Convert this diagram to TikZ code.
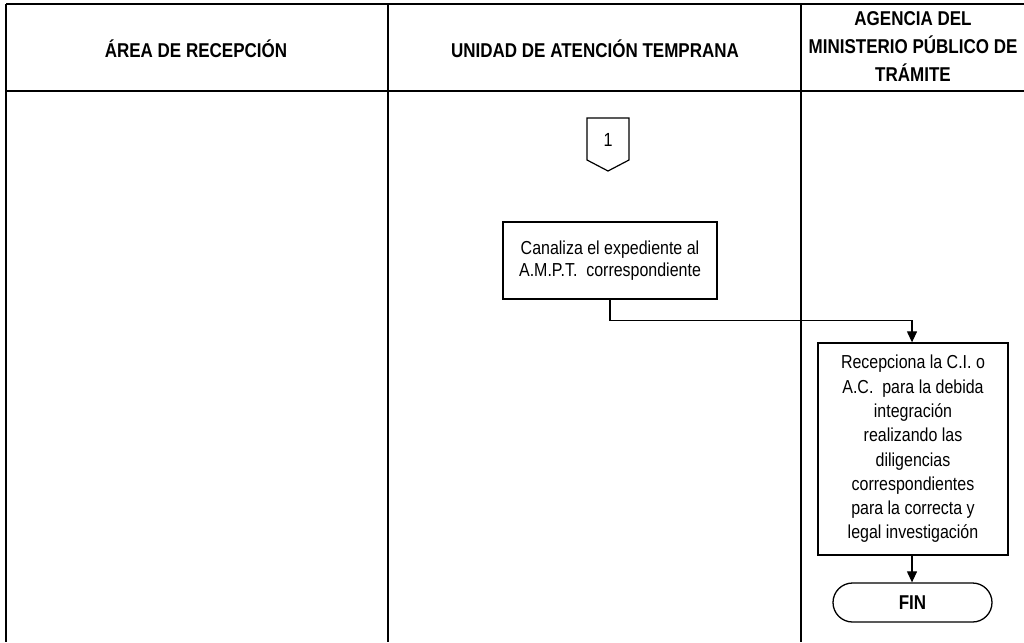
\documentclass[tikz,border=0pt]{standalone}
\usepackage{fontspec}
\setmainfont{Liberation Sans}[FakeStretch=0.85]
\usetikzlibrary{arrows.meta,shapes.misc}
\begin{document}
\begin{tikzpicture}[x=1pt,y=-1pt,
  frame/.style={line width=2pt,black},
  lanehead/.style={font=\fontsize{20}{28}\selectfont\bfseries,align=center},
  procbox/.style={draw,line width=1.3pt,align=center,font=\fontsize{18.8}{22}\selectfont,inner sep=0pt},
  conn/.style={line width=1.2pt},
  arr/.style={conn,-{Triangle[length=11pt,width=10pt]}}]
\useasboundingbox (0,0) rectangle (1024,642);
% frame
\draw[frame] (6,4) -- (1024,4);
\draw[frame] (6,91) -- (1024,91);
\draw[frame] (6,4) -- (6,642);
\draw[frame] (388,4) -- (388,642);
\draw[frame] (801,4) -- (801,642);
% headers
\node[lanehead,anchor=base] (h1) at (196,57) {ÁREA DE RECEPCIÓN};
\node[lanehead,anchor=base] (h2) at (595,57) {UNIDAD DE ATENCIÓN TEMPRANA};
\node[lanehead] (h3) at (913,47) {AGENCIA DEL\\MINISTERIO PÚBLICO DE\\TRÁMITE};
% off-page connector
\draw[line width=1.2pt] (587,118) -- (629,118) -- (629,160) -- (608,171) -- (587,160) -- cycle;
\node[font=\fontsize{19}{20}\selectfont] (c1) at (608,140) {1};
% boxes
\node[procbox,minimum width=214pt,minimum height=77pt] (b1) at (610,260.5)
  {Canaliza el expediente al\\A.M.P.T.\ \ correspondiente};
\node[procbox,font=\fontsize{18.8}{24.3}\selectfont,minimum width=190pt,minimum height=212pt] (b2) at (913,449)
  {Recepciona la C.I. o\\A.C.\ \ para la debida\\integración\\realizando las\\diligencias\\correspondientes\\para la correcta y\\legal investigación};
\node[draw,line width=1.3pt,rounded rectangle,minimum width=159pt,minimum height=39pt,inner sep=0pt,font=\fontsize{20}{22}\selectfont\bfseries] (fin) at (912.5,602.5) {FIN};
% connectors
\coordinate (k1) at (610,320.7);
\coordinate (k2) at (912,320.7);
\draw[arr] (b1.south -| k1) -- (k1) -- (k2) -- (b2.north -| k2);
\draw[arr] (b2.south -| k2) -- (fin.north -| k2);
\end{tikzpicture}
\end{document}
